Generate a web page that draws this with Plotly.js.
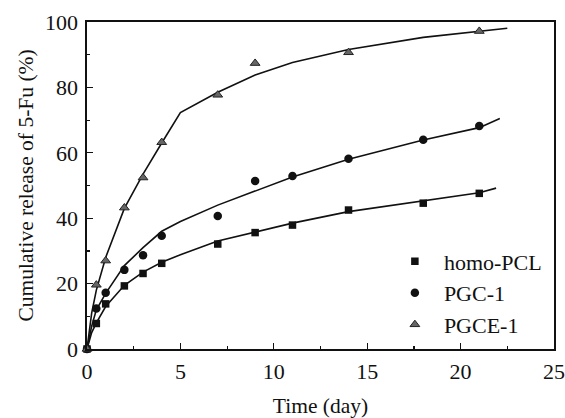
<!DOCTYPE html>
<html>
<head>
<meta charset="utf-8">
<script src="https://cdn.plot.ly/plotly-3.0.1.min.js"></script>
<style>html,body{margin:0;padding:0;background:#fff;}#chart{width:565px;height:418px;}</style>
</head>
<body>
<div id="chart"></div>
<script>
// Measured release data (time in days, cumulative release %)
const timePCL = [0, 0.5, 1, 2, 3, 4, 7, 9, 11, 14, 18, 21];
const homoPCL = [0, 7.8, 13.8, 19.3, 23.1, 26.2, 32.1, 35.6, 37.9, 42.5, 44.6, 47.6];

const timePGC = [0, 0.5, 1, 2, 3, 4, 7, 9, 11, 14, 18, 21];
const pgc1 = [0, 12.4, 17.2, 24.2, 28.7, 34.6, 40.7, 51.4, 52.9, 58.2, 64.0, 68.2];

const timePGCE = [0, 0.5, 1, 2, 3, 4, 7, 9, 14, 21];
const pgce1 = [0, 19.6, 27.0, 43.2, 52.4, 63.2, 77.7, 87.4, 90.7, 97.2];

// Fitted curves
const fitTimePCL = [0, 0.25, 0.5, 1, 2, 3, 4, 5, 7, 9, 11, 14, 18, 21, 21.9];
const fitPCL = [0, 5, 8, 13, 19.5, 23.5, 26.5, 28.8, 33, 35.8, 38.5, 42.0, 45.3, 47.8, 49.2];

const fitTimePGC = [0, 0.25, 0.5, 1, 2, 3, 4, 5, 7, 9, 11, 14, 18, 21, 22.1];
const fitPGC = [0, 7, 12, 17, 25.5, 31, 36, 39, 44, 48.2, 52.6, 58.0, 63.9, 67.7, 70.5];

const fitTimePGCE = [0, 0.25, 0.5, 1, 2, 3, 4, 5, 7, 9, 11, 14, 18, 21, 22.5];
const fitPGCE = [0, 11, 18, 28, 43, 53.5, 63, 72.3, 78.5, 83.8, 87.6, 91.6, 95.3, 97.3, 98.1];

const seriesNames = ['homo-PCL', 'PGC-1', 'PGCE-1'];
const xTicks = [0, 5, 10, 15, 20, 25];
const yTicks = [0, 20, 40, 60, 80, 100];

const FONT = 'Liberation Serif, Times New Roman, serif';
const lineStyle = {color: '#111', width: 1.6};

const traces = [
  {x: fitTimePCL, y: fitPCL, mode: 'lines', line: lineStyle, showlegend: false, hoverinfo: 'skip'},
  {x: fitTimePGC, y: fitPGC, mode: 'lines', line: lineStyle, showlegend: false, hoverinfo: 'skip'},
  {x: fitTimePGCE, y: fitPGCE, mode: 'lines', line: lineStyle, showlegend: false, hoverinfo: 'skip'},
  {x: timePCL, y: homoPCL, mode: 'markers', name: seriesNames[0],
   marker: {symbol: 'square', size: 7.5, color: '#111', line: {width: 0}}, cliponaxis: false},
  {x: timePGC, y: pgc1, mode: 'markers', name: seriesNames[1],
   marker: {symbol: 'circle', size: 8.5, color: '#111', line: {width: 0}}, cliponaxis: false},
  {x: timePGCE, y: pgce1, mode: 'markers', name: seriesNames[2],
   marker: {symbol: 'triangle-up', size: 8.5, color: '#666', line: {width: 1, color: '#222'}}, cliponaxis: false}
];

const layout = {
  width: 565, height: 418,
  margin: {l: 87, r: 11, t: 22, b: 69},
  paper_bgcolor: '#fff', plot_bgcolor: '#fff',
  font: {family: FONT, size: 22, color: '#111'},
  showlegend: true,
  legend: {
    x: 0.64, y: 0.332, xanchor: 'left', yanchor: 'top',
    bgcolor: 'rgba(0,0,0,0)', borderwidth: 0,
    font: {family: FONT, size: 22, color: '#111'},
    itemwidth: 48, tracegroupgap: 0
  },
  xaxis: {
    range: [0, 25], tickvals: xTicks, ticktext: xTicks.map(String),
    ticks: 'inside', ticklen: 6, tickwidth: 1.2, tickcolor: '#111',
    minor: {dtick: 2.5, ticks: 'inside', ticklen: 3, tickwidth: 1.2, tickcolor: '#111'},
    showline: true, linecolor: '#111', linewidth: 1.6, mirror: true,
    showgrid: false, zeroline: false, ticklabelstandoff: 2,
    tickfont: {family: FONT, size: 22, color: '#111'},
    title: {text: 'Time (day)', font: {family: FONT, size: 21.5, color: '#111'}, standoff: 21}
  },
  yaxis: {
    range: [0, 100], tickvals: yTicks, ticktext: yTicks.map(String),
    ticks: 'inside', ticklen: 6, tickwidth: 1.2, tickcolor: '#111',
    minor: {dtick: 10, ticks: 'inside', ticklen: 3, tickwidth: 1.2, tickcolor: '#111'},
    showline: true, linecolor: '#111', linewidth: 1.6, mirror: true,
    showgrid: false, zeroline: false, ticklabelstandoff: 3,
    tickfont: {family: FONT, size: 22, color: '#111'},
    title: {text: 'Cumulative release of 5-Fu (%)', font: {family: FONT, size: 21.5, color: '#111'}, standoff: 5}
  }
};

Plotly.newPlot('chart', traces, layout, {displayModeBar: false, staticPlot: true});
</script>
</body>
</html>
